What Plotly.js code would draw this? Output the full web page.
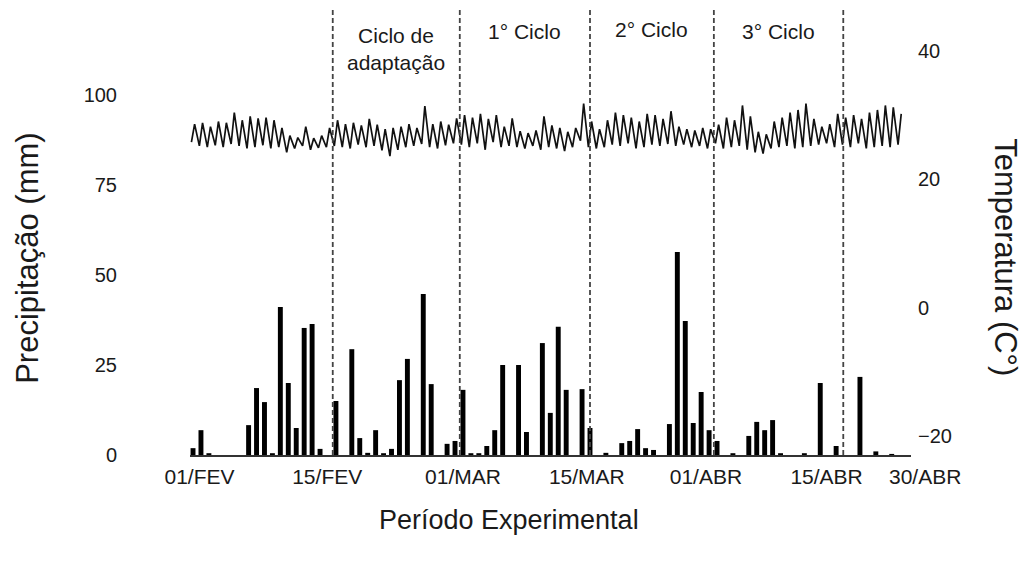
<!DOCTYPE html>
<html>
<head>
<meta charset="utf-8">
<script src="https://cdn.plot.ly/plotly-3.0.1.min.js"></script>
<style>
  html, body { margin: 0; padding: 0; background: #ffffff; }
  #chart { width: 1023px; height: 567px; }
</style>
</head>
<body>
<div id="chart"></div>
<script>
// Daily precipitation (mm), 01/FEV (day 0) to 30/ABR (day 88)
const precipitation = [
  1.9, 6.9, 0.5, 0, 0, 0, 0, 8.3, 18.6, 14.7,
  0.5, 41.1, 20.0, 7.5, 35.3, 36.4, 1.7, 0, 15.0, 0,
  29.4, 4.7, 0.6, 6.9, 0.5, 1.7, 20.8, 26.7, 0, 44.7,
  19.7, 0, 3.1, 3.9, 18.1, 0.5, 0.5, 2.5, 6.9, 25.0,
  0, 25.0, 6.4, 0, 31.1, 11.7, 35.6, 18.1, 0, 18.3,
  7.5, 0, 0.6, 0, 3.3, 3.9, 7.2, 1.9, 1.4, 0,
  8.6, 56.4, 37.2, 8.9, 17.5, 6.9, 3.9, 0, 0.5, 0,
  5.3, 9.2, 6.9, 9.7, 0.5, 0, 0, 0.5, 0, 20.0,
  0, 2.5, 0, 0, 21.7, 0, 1.0, 0, 0.3
];

// Daily minimum and maximum temperature (°C)
const tempMin = [
  25.8, 25.2, 25.0, 25.3, 25.0, 25.5, 25.2, 24.8, 25.0, 25.3,
  24.8, 25.0, 24.2, 24.8, 25.2, 24.6, 24.9, 25.0, 25.2, 25.0,
  24.8, 25.4, 25.0, 25.2, 24.5, 23.6, 24.6, 25.0, 25.2, 25.5,
  25.0, 24.8, 25.3, 25.6, 25.4, 25.0, 25.6, 24.6, 25.8, 25.0,
  25.2, 25.0, 24.8, 25.2, 24.6, 25.0, 24.8, 24.4, 25.0, 26.0,
  25.0, 24.8, 25.0, 25.4, 25.2, 25.6, 24.8, 25.0, 25.4, 25.2,
  25.5, 25.2, 25.4, 25.0, 25.2, 24.8, 25.6, 24.8, 25.0, 25.2,
  24.6, 24.2, 24.0, 24.8, 25.0, 25.2, 24.8, 25.0, 25.2, 25.4,
  25.6, 25.0, 25.4, 25.0, 25.6, 24.8, 25.0, 25.2, 25.0, 25.4
];
const tempMax = [
  28.6, 28.8, 28.2, 29.0, 28.8, 30.4, 29.2, 29.8, 29.5, 29.6,
  29.2, 28.0, 26.8, 26.5, 28.2, 26.4, 26.8, 28.0, 29.2, 28.6,
  28.8, 28.4, 29.4, 28.5, 27.8, 28.0, 28.2, 28.6, 28.0, 31.4,
  28.6, 29.0, 28.5, 29.5, 30.0, 29.6, 30.2, 29.4, 30.0, 28.2,
  29.5, 27.5, 27.2, 27.6, 29.8, 28.4, 28.0, 27.4, 28.0, 31.8,
  29.0, 27.8, 29.2, 30.4, 30.0, 29.6, 29.0, 30.2, 30.0, 29.4,
  30.6, 28.2, 27.8, 27.6, 28.0, 27.8, 28.5, 29.6, 29.2, 31.5,
  29.8, 27.4, 27.0, 29.0, 29.6, 30.4, 30.8, 31.8, 29.4, 28.2,
  28.6, 30.2, 29.6, 30.0, 29.4, 30.4, 30.8, 31.5, 31.2, 30.2
];

// Axis tick labels (positions in day units) and cycle boundaries
const dateTickPos = [0.82, 16.9, 34.0, 49.6, 64.6, 79.8];
const dateTickText = ["01/FEV", "15/FEV", "01/MAR", "15/MAR", "01/ABR", "15/ABR"];
const lastDateLabel = "30/ABR";
const cycleBounds = [17.6, 33.6, 50.0, 65.6, 81.9];
const cycleNames = ["Ciclo de<br>adaptação", "1° Ciclo", "2° Ciclo", "3° Ciclo"];
const cycleLabelY = [0.909, 0.9485, 0.953, 0.9485];
const precipTicks = [0, 25, 50, 75, 100];
const tempTicks = [-20, 0, 20, 40];

const dayIndex = precipitation.map((_, i) => i);

// Temperature line: min then max within each day
const tX = [], tY = [];
for (let d = 0; d < tempMin.length; d++) {
  tX.push(d - 0.2); tY.push(tempMin[d]);
  tX.push(d + 0.2); tY.push(tempMax[d]);
}

const FONT = "Liberation Sans, Arial, sans-serif";
const TXT = "#1a1a1a";

const traces = [
  {
    type: "bar", x: dayIndex, y: precipitation, width: 0.62,
    marker: { color: "#000000", line: { width: 0 } },
    hoverinfo: "x+y", name: "Precipitação"
  },
  {
    type: "scatter", mode: "lines", x: tX, y: tY, yaxis: "y2",
    line: { color: "#111111", width: 1.7 },
    name: "Temperatura"
  }
];

const shapes = cycleBounds.map(b => ({
  type: "line", xref: "x", yref: "paper",
  x0: b, x1: b, y0: 0, y1: 1,
  line: { color: "#444444", width: 1.8, dash: "5px,3px" }
}));

const annotations = [];
for (let i = 0; i < cycleNames.length; i++) {
  annotations.push({
    xref: "x", yref: "paper",
    x: (cycleBounds[i] + cycleBounds[i + 1]) / 2, y: cycleLabelY[i],
    text: cycleNames[i], showarrow: false,
    xanchor: "center", yanchor: "middle",
    font: { family: FONT, size: 21, color: TXT }
  });
}
annotations.push({
  xref: "paper", yref: "paper", x: 1.019, y: -0.0492,
  text: lastDateLabel, showarrow: false, xanchor: "center", yanchor: "middle",
  font: { family: FONT, size: 21, color: TXT }
});
annotations.push({
  xref: "paper", yref: "paper", x: 0.4424, y: -0.1454,
  text: "Período Experimental", showarrow: false, xanchor: "center", yanchor: "middle",
  font: { family: FONT, size: 27, color: TXT }
});
annotations.push({
  xref: "paper", yref: "paper", x: -0.2247, y: 0.441,
  text: "Precipitação (mm)", showarrow: false, textangle: -90,
  xanchor: "center", yanchor: "middle",
  font: { family: FONT, size: 31, color: TXT }
});
annotations.push({
  xref: "paper", yref: "paper", x: 1.130, y: 0.443,
  text: "Temperatura (C°)", showarrow: false, textangle: 90,
  xanchor: "center", yanchor: "middle",
  font: { family: FONT, size: 31, color: TXT }
});

const layout = {
  width: 1023, height: 567,
  margin: { l: 190, r: 112, t: 8, b: 112 },
  paper_bgcolor: "#ffffff", plot_bgcolor: "#ffffff",
  showlegend: false,
  font: { family: FONT, color: TXT },
  xaxis: {
    range: [-0.38, 90.43], tickmode: "array",
    tickvals: dateTickPos, ticktext: dateTickText,
    showgrid: false, zeroline: false, ticks: "",
    showline: true, linecolor: "#333333", linewidth: 1.5,
    tickfont: { family: FONT, size: 21, color: TXT },
    ticklabelstandoff: 2, fixedrange: true
  },
  yaxis: {
    range: [0, 124.2], tickmode: "array", tickvals: precipTicks,
    showgrid: false, zeroline: false, showline: false, ticks: "",
    tickfont: { family: FONT, size: 20, color: TXT },
    ticklabelstandoff: 72, fixedrange: true
  },
  yaxis2: {
    overlaying: "y", side: "right",
    range: [-22.94, 46.68], tickmode: "array", tickvals: tempTicks,
    showgrid: false, zeroline: false, showline: false, ticks: "",
    tickfont: { family: FONT, size: 20, color: TXT },
    ticklabelstandoff: 6, fixedrange: true
  },
  shapes: shapes,
  annotations: annotations
};

Plotly.newPlot("chart", traces, layout, { displayModeBar: false, staticPlot: true });
</script>
</body>
</html>
